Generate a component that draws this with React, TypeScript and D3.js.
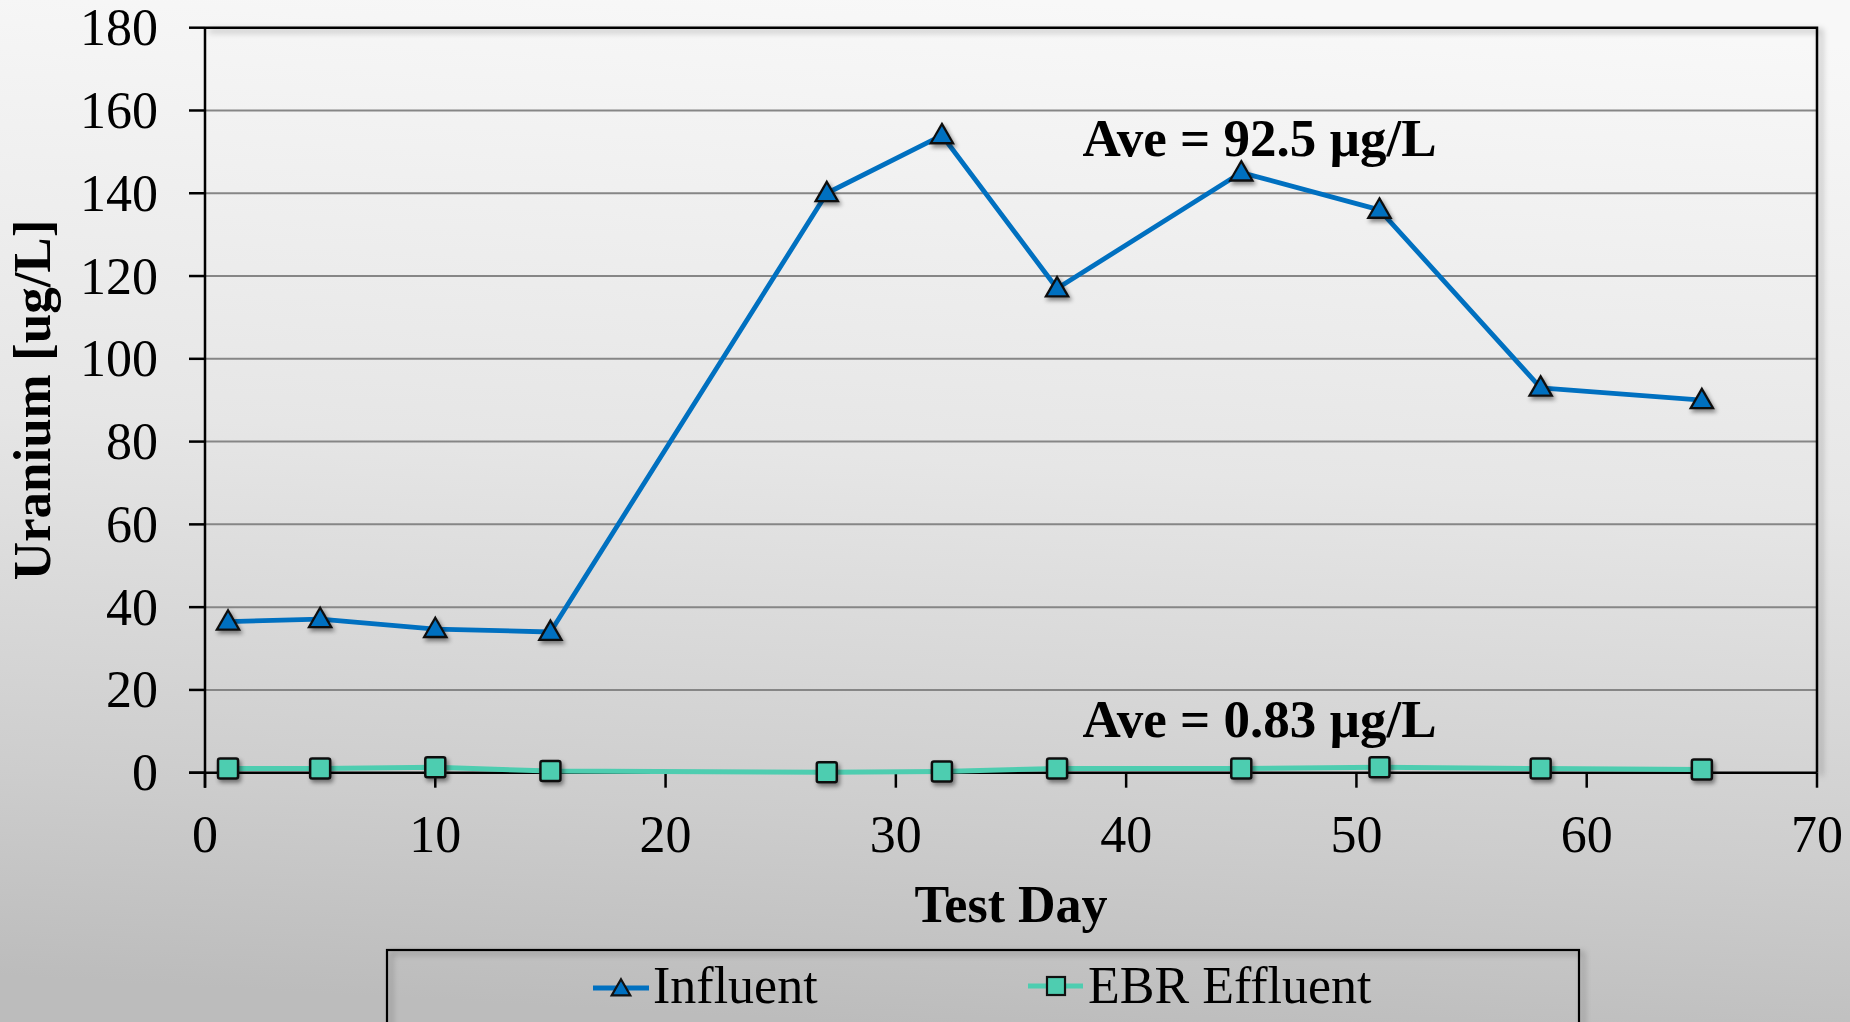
import React from "react";
import * as d3 from "d3";

const testDays = [1, 5, 10, 15, 27, 32, 37, 45, 51, 58, 65];
const influent = [36.5, 37.1, 34.7, 34.0, 140, 154, 117, 145, 136, 93, 90];
const effluent = [1.0, 1.0, 1.3, 0.4, 0.1, 0.3, 1.0, 1.0, 1.3, 1.0, 0.8];
const xTicks = [0, 10, 20, 30, 40, 50, 60, 70];
const yTicks = [0, 20, 40, 60, 80, 100, 120, 140, 160, 180];
const seriesNames = ["Influent", "EBR Effluent"];
const annotations = [
  { text: "Ave = 92.5 \u00b5g/L", day: 38.1, value: 149.1 },
  { text: "Ave = 0.83 \u00b5g/L", day: 38.1, value: 8.6 },
];

const W = 1850;
const H = 1022;
const FONT = "'Liberation Serif', 'Times New Roman', serif";
const BLUE = "#0070C0";
const TEAL = "#4ECDB0";

export default function App() {
  const x = d3.scaleLinear().domain([0, 70]).range([205, 1817]);
  const y = d3.scaleLinear().domain([0, 180]).range([772.7, 27.7]);
  const [x0, x1] = x.range();
  const [y0, y1] = y.range();

  const line = d3
    .line<number>()
    .x((_, i) => x(testDays[i]))
    .y((d) => y(d));

  const triPath = d3.symbol().type(d3.symbolTriangle).size(215)() as string;
  const legendTri = d3.symbol().type(d3.symbolTriangle).size(150)() as string;

  return (
    <svg
      width={W}
      height={H}
      style={{ position: "fixed", left: 0, top: 0, display: "block" }}
      fontFamily={FONT}
    >
      <defs>
        <linearGradient id="bg" x1="0.55" y1="0" x2="0.45" y2="1">
          <stop offset="0" stopColor="#f8f8f8" />
          <stop offset="0.45" stopColor="#e6e6e6" />
          <stop offset="0.8" stopColor="#cdcdcd" />
          <stop offset="1" stopColor="#bcbcbc" />
        </linearGradient>
        <filter id="sh" x="-50%" y="-50%" width="200%" height="200%">
          <feDropShadow dx="2" dy="3" stdDeviation="2" floodColor="#000" floodOpacity="0.45" />
        </filter>
        <filter id="shFrame" x="-5%" y="-5%" width="110%" height="110%">
          <feDropShadow dx="4" dy="3" stdDeviation="3" floodColor="#000" floodOpacity="0.35" />
        </filter>
      </defs>
      <rect x={0} y={0} width={W} height={H} fill="url(#bg)" />

      {yTicks
        .filter((t) => t !== 0 && t !== 180)
        .map((t) => (
          <line key={"g" + t} x1={x0} x2={x1} y1={y(t)} y2={y(t)} stroke="#868686" strokeWidth={2} />
        ))}

      <g filter="url(#shFrame)">
        <path d={`M${x0},${y1} H${x1} V${y0}`} fill="none" stroke="#000" strokeWidth={2.5} />
      </g>
      <line x1={x0} x2={x0} y1={y1} y2={y0 + 15} stroke="#000" strokeWidth={2.5} />
      <line x1={x0 - 16} x2={x1} y1={y0} y2={y0} stroke="#000" strokeWidth={2.5} />

      {yTicks.map((t) => (
        <g key={"yt" + t}>
          <line x1={x0 - 16} x2={x0} y1={y(t)} y2={y(t)} stroke="#000" strokeWidth={2.5} />
          <text x={158} y={y(t) + 17.5} textAnchor="end" fontSize={52} fill="#000">
            {t}
          </text>
        </g>
      ))}

      {xTicks.map((t) => (
        <g key={"xt" + t}>
          <line x1={x(t)} x2={x(t)} y1={y0} y2={y0 + 15} stroke="#000" strokeWidth={2.5} />
          <text x={x(t)} y={851.7} textAnchor="middle" fontSize={52} fill="#000">
            {t}
          </text>
        </g>
      ))}

      <text x={1011} y={922} textAnchor="middle" fontSize={52} fontWeight="bold" fill="#000">
        Test Day
      </text>
      <text
        transform={`translate(50,400) rotate(-90)`}
        textAnchor="middle"
        fontSize={53}
        fontWeight="bold"
        fill="#000"
      >
        Uranium [ug/L]
      </text>

      <path d={line(effluent) as string} fill="none" stroke={TEAL} strokeWidth={5} strokeLinejoin="round" />
      <path d={line(influent) as string} fill="none" stroke={BLUE} strokeWidth={4.8} strokeLinejoin="round" />

      <g filter="url(#sh)">
        {effluent.map((v, i) => (
          <rect
            key={"e" + i}
            x={x(testDays[i]) - 10}
            y={y(v) - 10}
            width={20}
            height={20}
            rx={2}
            fill={TEAL}
            stroke="#111"
            strokeWidth={2.5}
          />
        ))}
        {influent.map((v, i) => (
          <path
            key={"i" + i}
            d={triPath}
            transform={`translate(${x(testDays[i])},${y(v) + 1.5})`}
            fill={BLUE}
            stroke="#111"
            strokeWidth={2.3}
          />
        ))}
      </g>

      {annotations.map((a) => (
        <text key={a.text} x={x(a.day)} y={y(a.value)} fontSize={53} fontWeight="bold" fill="#000">
          {a.text}
        </text>
      ))}

      <g filter="url(#shFrame)">
        <rect x={387} y={950} width={1192} height={120} fill="none" stroke="#000" strokeWidth={2.2} />
      </g>
      <g>
        <line x1={593} x2={649} y1={988} y2={988} stroke={BLUE} strokeWidth={5} />
        <path d={legendTri} transform="translate(621,990)" fill={BLUE} stroke="#111" strokeWidth={2.2} />
        <text x={653} y={1003} fontSize={52} fill="#000">
          {seriesNames[0]}
        </text>
        <line x1={1028} x2={1083} y1={986} y2={986} stroke={TEAL} strokeWidth={5} />
        <rect x={1047} y={977} width={18} height={18} fill={TEAL} stroke="#111" strokeWidth={2.2} />
        <text x={1088} y={1003} fontSize={52} fill="#000">
          {seriesNames[1]}
        </text>
      </g>
    </svg>
  );
}
